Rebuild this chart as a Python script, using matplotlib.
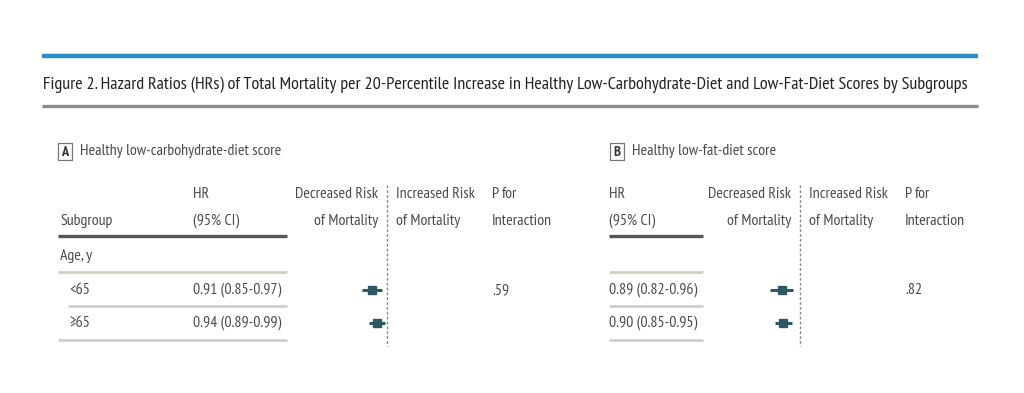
import matplotlib.pyplot as plt
from matplotlib.patches import Rectangle

plt.rcParams['font.family'] = ['PT Sans Narrow', 'Open Sans Condensed', 'Liberation Sans', 'DejaVu Sans']

# data
subgroups = ['<65', '\u226565']
hr_a = [0.91, 0.94]
lo_a = [0.85, 0.89]
hi_a = [0.97, 0.99]
p_a = ['.59', '']
hr_b = [0.89, 0.90]
lo_b = [0.82, 0.85]
hi_b = [0.96, 0.95]
p_b = ['.82', '']

title = ('Figure 2. Hazard Ratios (HRs) of Total Mortality per 20-Percentile Increase in '
         'Healthy Low-Carbohydrate-Diet and Low-Fat-Diet Scores by Subgroups')

W, H = 1024, 393
fig = plt.figure(figsize=(W / 100, H / 100), dpi=100)
ax = fig.add_axes([0, 0, 1, 1])
ax.set_xlim(0, W)
ax.set_ylim(H, 0)
ax.axis('off')
renderer = fig.canvas.get_renderer()


def width_px(t):
    return t.get_window_extent(renderer).width


def fit_size(s, target, **kw):
    t = ax.text(0, 0, s, fontsize=10, **kw)
    w = width_px(t)
    t.remove()
    return 10 * target / w


txt = '#4a4a4a'
teal = '#2d5962'
light = '#cfcfc6'
fs = fit_size('Healthy low-carbohydrate-diet score', 200)

# header band
ax.plot([42, 978], [56, 56], color='#2a8fc4', lw=3.2, solid_capstyle='butt')
ax.text(43, 85, title, fontsize=fit_size(title, 929), color='#222222', va='center')
ax.plot([42, 978], [106, 106], color='#8a8a8a', lw=2.4, solid_capstyle='butt')

row_y = [290, 323]


def panel(x0, label, name, hr, lo, hi, pv, hr_x, dash_x, p_x, with_subgroup):
    ax.add_patch(Rectangle((x0, 143), 14, 17, fill=False, ec='#777777', lw=0.9))
    ax.text(x0 + 7, 152, label, fontsize=fs * 0.9, color='#333333', ha='center', va='center',
            fontweight='bold')
    ax.text(x0 + 22, 151, name, fontsize=fs, color=txt, va='center')

    line_x0 = 58 if with_subgroup else hr_x
    line_x1 = hr_x + 94
    if with_subgroup:
        ax.text(60, 221, 'Subgroup', fontsize=fs, color=txt, va='center')
        ax.text(60, 256, 'Age, y', fontsize=fs, color=txt, va='center')
        for s, y in zip(subgroups, row_y):
            ax.text(69, y, s, fontsize=fs, color=txt, va='center')
    ax.text(hr_x, 194, 'HR', fontsize=fs, color=txt, va='center')
    ax.text(hr_x, 221, '(95% CI)', fontsize=fs, color=txt, va='center')
    ax.text(dash_x - 9, 194, 'Decreased Risk', fontsize=fs, color=txt, va='center', ha='right')
    ax.text(dash_x - 9, 221, 'of Mortality', fontsize=fs, color=txt, va='center', ha='right')
    ax.text(dash_x + 9, 194, 'Increased Risk', fontsize=fs, color=txt, va='center')
    ax.text(dash_x + 9, 221, 'of Mortality', fontsize=fs, color=txt, va='center')
    tp = ax.text(p_x, 194, 'P', fontsize=fs, color=txt, va='center', style='italic')
    ax.text(p_x + width_px(tp) + 3, 194, 'for', fontsize=fs, color=txt, va='center')
    ax.text(p_x, 221, 'Interaction', fontsize=fs, color=txt, va='center')

    ax.plot([line_x0, line_x1], [236, 236], color='#555555', lw=2.4, solid_capstyle='butt')
    for y in [272, 306, 340]:
        if with_subgroup:
            xa = 68 if y == 306 else line_x0
        else:
            xa = hr_x
        ax.plot([xa, line_x1], [y, y], color=light, lw=2.0, solid_capstyle='butt')

    for i, y in enumerate(row_y):
        ax.text(hr_x, y, f'{hr[i]:.2f} ({lo[i]:.2f}-{hi[i]:.2f})', fontsize=fs,
                color=txt, va='center')
        if pv[i]:
            ax.text(p_x, y, pv[i], fontsize=fs, color=txt, va='center')

    # forest axes: HR = 1 sits at dash_x
    half = 97
    fa = fig.add_axes([(dash_x - half) / W, 0, 2 * half / W, 1])
    fa.set_xlim(1 - half / 167, 1 + half / 167)
    fa.set_ylim(H, 0)
    fa.axis('off')
    fa.plot([1, 1], [185, 346], color='#8a8a8a', lw=1.0, ls=(0, (2, 1.5)))
    for i, y in enumerate(row_y):
        fa.plot([lo[i], hi[i]], [y, y], color=teal, lw=2.2, solid_capstyle='butt')
        fa.plot(hr[i], y, marker='s', ms=5.5, color=teal, mec=teal)


panel(58, 'A', 'Healthy low-carbohydrate-diet score', hr_a, lo_a, hi_a, p_a,
      193, 387, 492, True)
panel(610, 'B', 'Healthy low-fat-diet score', hr_b, lo_b, hi_b, p_b,
      609, 800, 905, False)

fig.savefig('out.png', dpi=100, facecolor='white')
